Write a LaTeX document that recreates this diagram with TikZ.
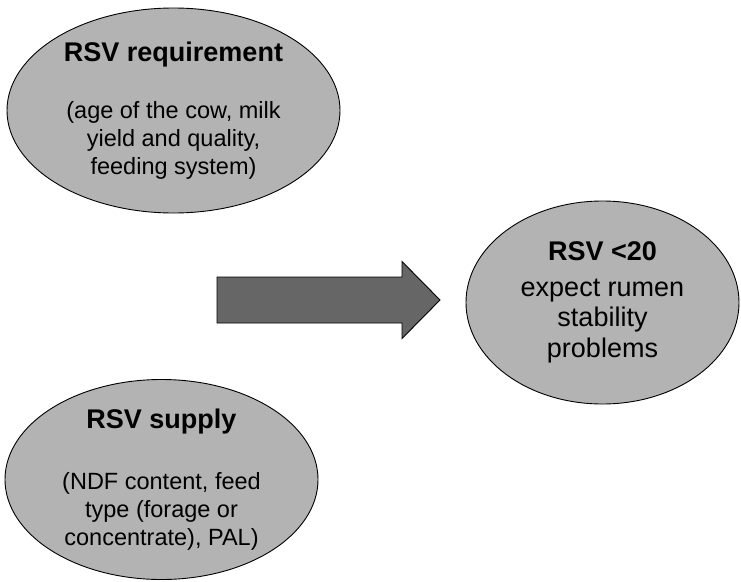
\documentclass[tikz,border=0pt]{standalone}
\usepackage{fontspec}
\setmainfont{Liberation Sans}
\usetikzlibrary{shapes.geometric}

\definecolor{bubblegray}{HTML}{B3B3B3}
\definecolor{arrowgray}{HTML}{666666}

\tikzset{
  bubble/.style={ellipse, draw=black, line width=0.9pt, fill=bubblegray,
    inner sep=0pt, align=center, text=black},
  bigarrow/.style={draw=black, line width=0.9pt, fill=arrowgray, line join=miter}
}

\begin{document}
\begin{tikzpicture}[x=1pt,y=-1pt]
  % --- sizes (px of the reference)
  \def\fbody{\fontsize{23.5}{28}\selectfont}
  \def\fhead{\fontsize{27}{28}\selectfont\bfseries}
  \def\fright{\fontsize{27}{30.5}\selectfont}

  \useasboundingbox (0,0) rectangle (741,581);

  %---------------------------------------
  % requirement (top left)
  \node[bubble, font=\fbody, minimum width=333pt, minimum height=205pt]
    (need) at (173.5,110.5)
    {{\fhead RSV requirement}\\[29pt]
     (age of the cow, milk\\ yield and quality,\\ feeding system)};

  % supply (bottom left)
  \node[bubble, font=\fbody, minimum width=313pt, minimum height=195pt]
    (supply) at (161.5,479.5)
    {{\fhead RSV supply}\\[33pt]
     (NDF content, feed\\ type (forage or\\ concentrate), PAL)};

  % outcome (right)
  \node[bubble, font=\fright, minimum width=273pt, minimum height=203pt]
    (outcome) at (602.5,302.5)
    {{\bfseries RSV <20}\\[5pt]
     expect rumen\\ stability\\ problems};

  %---------------------------------------
  % block arrow
  \def\ax{217} \def\ahx{402} \def\atip{440}
  \def\ay{300} \def\sh{23} \def\hh{38.5}
  \draw[bigarrow] (\ax,\ay-\sh) -- (\ahx,\ay-\sh) -- (\ahx,\ay-\hh)
    -- (\atip,\ay) -- (\ahx,\ay+\hh) -- (\ahx,\ay+\sh) -- (\ax,\ay+\sh) -- cycle;
\end{tikzpicture}
\end{document}
